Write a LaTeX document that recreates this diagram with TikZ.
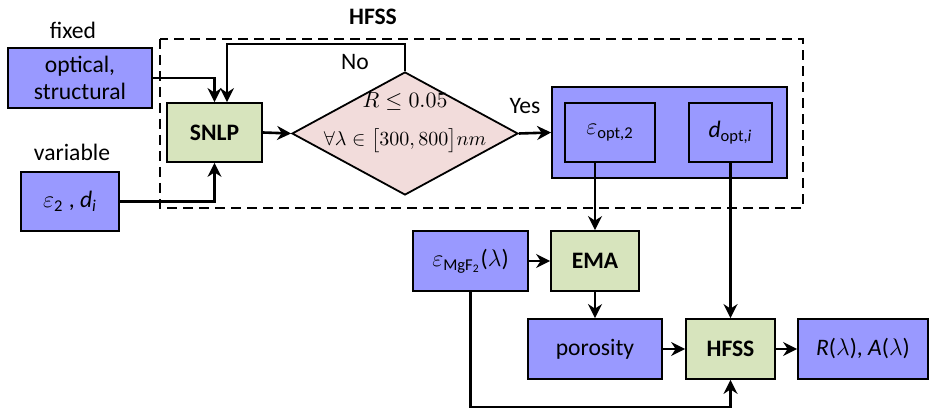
\documentclass[tikz,border=0pt]{standalone}
\usepackage{fontspec}
\setmainfont{Carlito}
\usetikzlibrary{arrows.meta,shapes.geometric}
\definecolor{BoxBlue}{RGB}{153,153,255}
\definecolor{BoxGreen}{RGB}{215,228,189}
\definecolor{TestPink}{RGB}{242,220,219}
\newcommand{\boxfont}{\fontsize{11.8}{13.5}\selectfont}
\tikzset{
  data/.style={draw=black,fill=BoxBlue,line width=0.9pt,inner sep=0pt,align=center},
  proc/.style={draw=black,fill=BoxGreen,line width=0.9pt,inner sep=0pt,font=\boxfont\bfseries},
  test/.style={diamond,draw=black,fill=TestPink,line width=0.9pt,inner sep=0pt,
    minimum width=113pt,minimum height=61.5pt},
  flow/.style={draw=black,line width=1.3pt,-{Stealth[length=7pt,width=7pt]}},
  label/.style={inner sep=0pt},
}

\begin{document}
\begin{tikzpicture}[x=0.5pt,y=-0.5pt,font=\boxfont]
\useasboundingbox (0,0) rectangle (930,410);
% outer loop of the optimisation
\draw[black,line width=1.1pt,dash pattern=on 5pt off 3pt] (160,39) rectangle (803,208);
\node[label,font=\boxfont\bfseries] (title) at (373,17) {HFSS};
% inputs
\node[label] (fixlab) at (73,30) {fixed};
\node[data,minimum width=72pt,minimum height=30pt] (opt) at (80,78) {optical,\\structural};
\node[label] (varlab) at (72,152) {variable};
\node[data,minimum width=49pt,minimum height=29.5pt] (eps) at (70,201.5)
  {$\varepsilon$\textsubscript{2} , \textit{d}\textsubscript{\textit{i}}};
% solver and test
\node[proc,minimum width=47.5pt,minimum height=29.5pt] (snlp) at (214.5,132.5) {SNLP};
\node[test] (check) at (405,133.5) {};
\node[label,font=\fontsize{10.5}{12}\selectfont] (cond1) at (405,102) {$R\le 0.05$};
\node[label,font=\fontsize{10}{12}\selectfont] (cond2) at (405,141)
  {$\forall\lambda\in\bigl[300,800\bigr]nm$};
\node[label] (no) at (355,62) {No};
\node[label] (yes) at (525,106) {Yes};
% optimum
\node[data,minimum width=117.5pt,minimum height=45.5pt] (best) at (669.5,132.5) {};
\node[data,minimum width=45pt,minimum height=29.5pt] (eopt) at (610,132.5)
  {$\varepsilon$\textsubscript{opt,2}};
\node[data,minimum width=41.5pt,minimum height=29.5pt] (dopt) at (730.5,132.5)
  {\textit{d}\textsubscript{opt,\textit{i}}};
% lower chain
\node[data,minimum width=57.5pt,minimum height=30pt] (mgf) at (470.5,261)
  {$\varepsilon$\textsubscript{MgF\textsubscript{2}}($\lambda$)};
\node[proc,minimum width=44pt,minimum height=30pt] (ema) at (595,261) {EMA};
\node[data,minimum width=67pt,minimum height=30pt] (poro) at (595,349) {porosity};
\node[proc,minimum width=44.5pt,minimum height=30pt] (hfss) at (730.5,349) {HFSS};
\node[data,minimum width=65pt,minimum height=30pt] (res) at (863,349)
  {\textit{R}($\lambda$), \textit{A}($\lambda$)};
\coordinate (back) at (227,44);
\coordinate (low) at (470.5,407);
\draw[flow] (opt.east) -| (snlp.north);
\draw[flow] (eps.east) -| (snlp.south);
\draw[flow] (check.north) |- (back) -- (back |- snlp.north);
\draw[flow] (snlp.east) -- (check.west);
\draw[flow] (check.east) -- (best.west);
\draw[flow] (eopt.south -| ema.north) -- (ema.north);
\draw[flow] (dopt.south) -- (hfss.north);
\draw[flow] (mgf.east) -- (ema.west);
\draw[flow] (ema.south) -- (poro.north);
\draw[flow] (poro.east) -- (hfss.west);
\draw[flow] (hfss.east) -- (res.west);
\draw[flow] (mgf.south) -- (low) -| (hfss.south);
\end{tikzpicture}
\end{document}
